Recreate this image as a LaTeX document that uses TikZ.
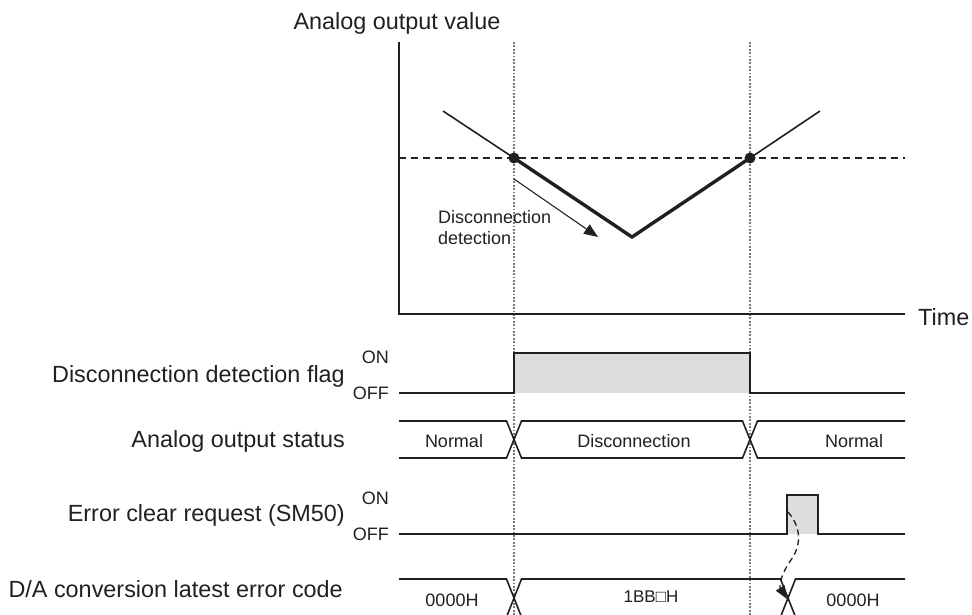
\documentclass[tikz,border=0pt]{standalone}
\usepackage{fontspec}
\setmainfont{Liberation Sans}
\usetikzlibrary{arrows.meta}
\definecolor{txt}{HTML}{231F20}
\definecolor{fillgray}{HTML}{DCDDDF}
\definecolor{guidegray}{HTML}{7A7A7A}
\begin{document}
\begin{tikzpicture}[x=1pt,y=-1pt,
  ink/.style={draw=txt, line width=1.6pt, line join=miter},
  thickv/.style={draw=txt, line width=3.4pt, line join=miter},
  guide/.style={draw=guidegray, line width=1.6pt, dash pattern=on 1.8pt off 1.6pt},
  refline/.style={draw=txt, line width=1.4pt, dash pattern=on 7pt off 5pt},
  lbl/.style={font=\fontsize{23.4}{27}\selectfont, text=txt, inner sep=0pt},
  sml/.style={font=\fontsize{18}{21}\selectfont, text=txt, inner sep=0pt},
  dotmark/.style={fill=txt},
]
\useasboundingbox (0,0) rectangle (972,615);

% guide lines
\coordinate (g1t) at (514,42);  \coordinate (g1b) at (514,616);
\coordinate (g2t) at (750,42);  \coordinate (g2b) at (750,616);
\draw[guide] (g1t) -- (g1b);
\draw[guide] (g2t) -- (g2b);

% axes
\coordinate (yt) at (399,42);
\coordinate (org) at (399,314);
\coordinate (xr) at (905,314);
\draw[ink] (yt) -- (org) -- (xr);
\node[lbl, anchor=base] (ylabel) at (397,30) {Analog output value};
\node[lbl, anchor=base west] (xlabel) at (918,325) {Time};

% reference level
\coordinate (rl) at (399,158);
\coordinate (rr) at (905,158);
\draw[refline] (rl) -- (rr);

% analog output curve
\coordinate (a0) at (443,111);
\coordinate (p1) at (514,158);
\coordinate (vb) at (632,237);
\coordinate (p2) at (750,158);
\coordinate (a1) at (820,111);
\draw[ink] (a0) -- (p1);
\draw[thickv] (p1) -- (vb) -- (p2);
\draw[ink] (p2) -- (a1);
\fill[dotmark] (p1) circle (5.5pt);
\fill[dotmark] (p2) circle (5.5pt);

% disconnection detection arrow
\coordinate (ar0) at (514,179);
\coordinate (ar1) at (598,237);
\draw[draw=txt, line width=1.1pt, -{Triangle[length=14pt,width=11pt]}] (ar0) -- (ar1);
\node[sml, anchor=base west] (dd1) at (438,223) {Disconnection};
\node[sml, anchor=base west] (dd2) at (438,244) {detection};

% disconnection detection flag
\node[lbl, anchor=base east] (flagl) at (345,382) {Disconnection detection flag};
\node[sml, anchor=base east] (flagon) at (389,363) {ON};
\node[sml, anchor=base east] (flagoff) at (389,399) {OFF};
\fill[fillgray] (514,353) rectangle (750,393);
\draw[ink] (399,393) -- (514,393) -- (514,353) -- (750,353) -- (750,393) -- (905,393);

% analog output status
\node[lbl, anchor=base east] (statl) at (345,447) {Analog output status};
\draw[ink] (399,421) -- (506.5,421) -- (521.5,458) -- (742.5,458) -- (757.5,421) -- (905,421);
\draw[ink] (399,458) -- (506.5,458) -- (521.5,421) -- (742.5,421) -- (757.5,458) -- (905,458);
\node[sml, anchor=base] (st1) at (454,447) {Normal};
\node[sml, anchor=base] (st2) at (634,447) {Disconnection};
\node[sml, anchor=base] (st3) at (854,447) {Normal};

% error clear request
\node[lbl, anchor=base east] (ecl) at (345,521) {Error clear request (SM50)};
\node[sml, anchor=base east] (econ) at (389,504) {ON};
\node[sml, anchor=base east] (ecoff) at (389,540) {OFF};
\fill[fillgray] (787,495) rectangle (818,534);
\draw[ink] (399,534) -- (787,534) -- (787,495) -- (818,495) -- (818,534) -- (905,534);

% D/A conversion latest error code
\node[lbl, anchor=base east] (errl) at (343,597) {D/A conversion latest error code};
\draw[ink] (399,579) -- (506.5,579) -- (521.5,617) -- (780.5,617) -- (795.5,579) -- (905,579);
\draw[ink] (399,617) -- (506.5,617) -- (521.5,579) -- (780.5,579) -- (795.5,617) -- (905,617);
\node[sml, anchor=base] (ec1) at (452,606) {0000H};
\node[font=\fontsize{17}{20}\selectfont, text=txt, inner sep=0pt, anchor=base] (ec2) at (651,602) {1BB□H};
\node[sml, anchor=base] (ec3) at (853,606) {0000H};

% dashed causal arrow
\coordinate (ca0) at (788,512);
\coordinate (cam) at (791,560);
\coordinate (ca1) at (787,599);
\draw[draw=txt, line width=1.3pt, dash pattern=on 6pt off 4pt, -{Triangle[length=13pt,width=10pt]}]
  (ca0) .. controls (802,528) and (801,546) .. (cam) .. controls (781,574) and (779,586) .. (ca1);
\end{tikzpicture}
\end{document}
